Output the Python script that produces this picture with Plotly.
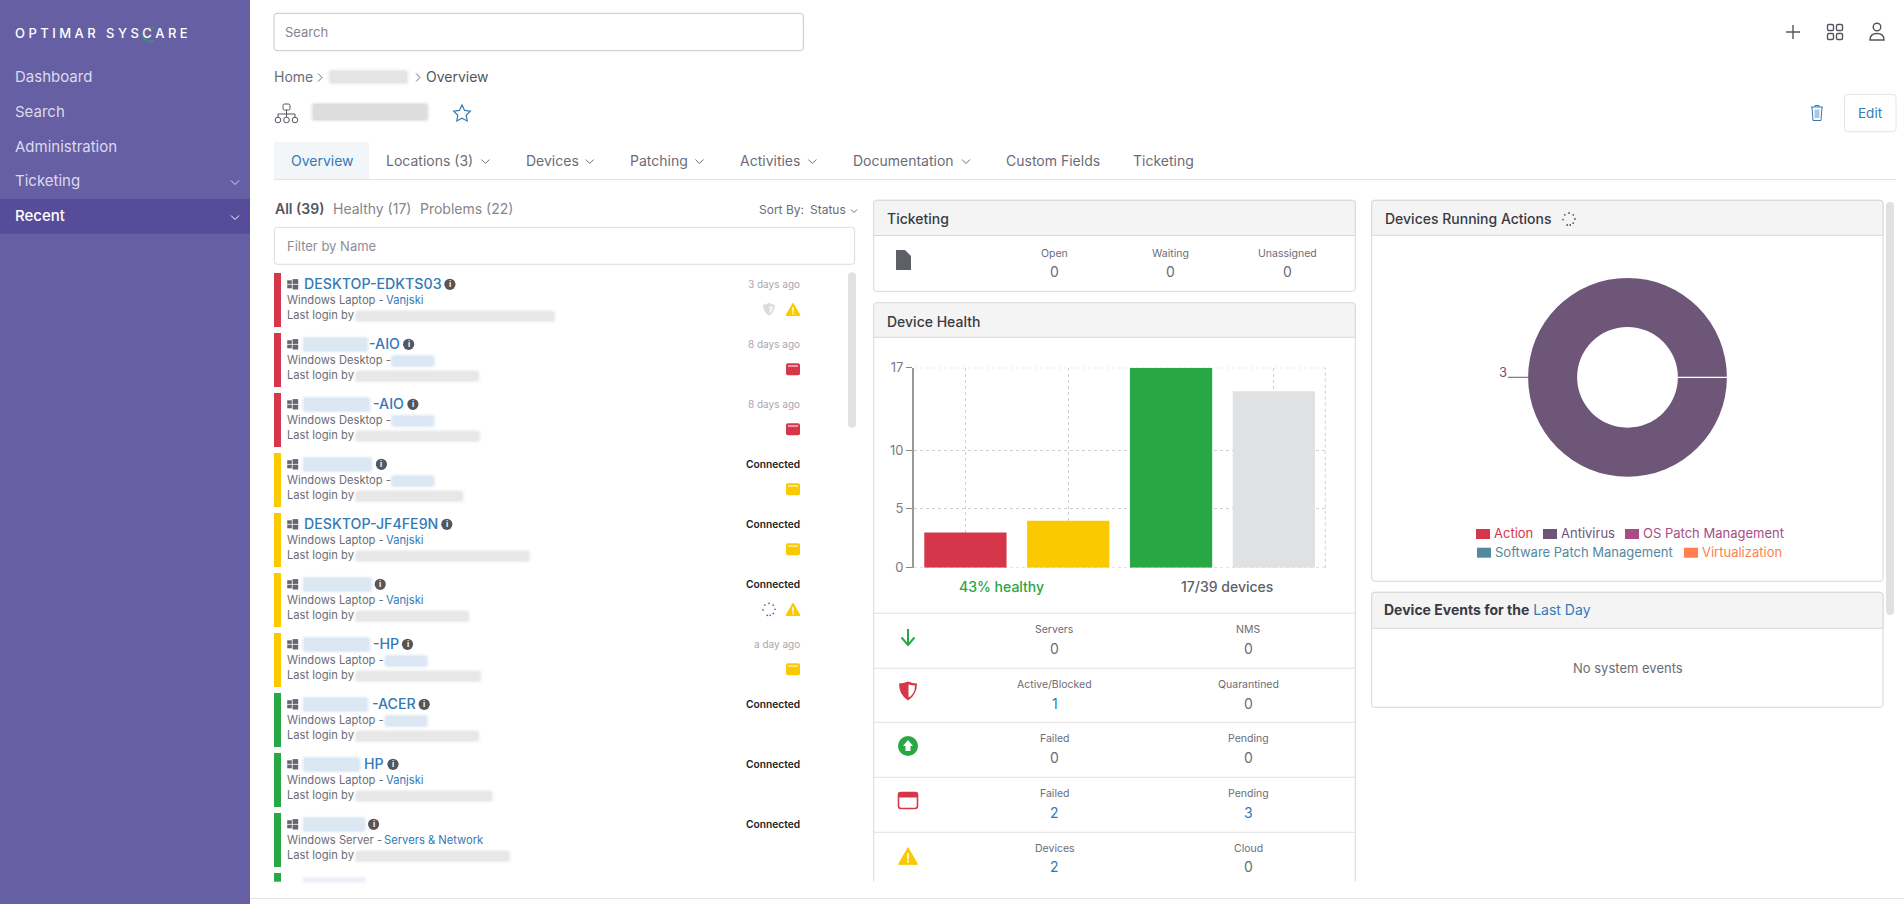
import plotly.graph_objects as go

# chart data
health_labels = ["Problems", "Warnings", "Healthy", "Offline"]
health_values = [3, 4, 17, 15]
health_ticks = [0, 5, 10, 17]

action_labels = ["Action", "Antivirus", "OS Patch Management", "Software Patch Management", "Virtualization"]
action_values = [0, 3, 0, 0, 0]
action_colors = ["#d63649", "#6e5678", "#a94c85", "#5488a0", "#ff7f50"]

# page text
menu_items = ["Dashboard", "Search", "Administration", "Ticketing", "Recent"]
tab_names = ["Locations (3)", "Devices", "Patching", "Activities", "Documentation", "Custom Fields", "Ticketing"]
tab_x = [386.6, 526.5, 630.5, 740.5, 853.5, 1006.5, 1133.5]
tab_chevrons = [485.4, 589.7, 699.4, 812.3, 966]

device_names = ["DESKTOP-EDKTS03", "-AIO", "-AIO", "", "DESKTOP-JF4FE9N", "", "-HP", "-ACER", "HP", ""]
device_types = ["Windows Laptop", "Windows Desktop", "Windows Desktop", "Windows Desktop", "Windows Laptop",
                "Windows Laptop", "Windows Laptop", "Windows Laptop", "Windows Laptop", "Windows Server"]
device_sites = ["Vanjski", "", "", "", "Vanjski", "Vanjski", "", "", "Vanjski", "Servers & Network"]
device_seen = ["3 days ago", "8 days ago", "8 days ago", "Connected", "Connected", "Connected",
               "a day ago", "Connected", "Connected", "Connected"]
device_state = ["red", "red", "red", "yellow", "yellow", "yellow", "yellow", "green", "green", "green"]
device_icons = [["shield", "warn"], ["win_red"], ["win_red"], ["win_yellow"], ["win_yellow"],
                ["spin", "warn"], ["win_yellow"], [], [], []]

# where the blurred bits of each row sit
name_text_x = [304.2, 369, 373, 0, 304.2, 0, 373, 372, 364.3, 0]
name_blur_end = [0, 367, 369, 370.9, 0, 370.9, 369, 367, 359.2, 364.3]
info_x = [449.9, 408.6, 412.9, 381.4, 446.8, 380.2, 407.5, 424.2, 393, 373.6]
login_blur_end = [553.8, 477.9, 479, 462.3, 528.5, 468, 479.8, 477.9, 491.5, 509]
site_x = {"Windows Laptop": 385.7, "Windows Desktop": 392.3, "Windows Server": 383.7}
site_blur = [None, (392.3, 433.2), (392.3, 433.2), (392.3, 433.2), None, None,
             (385.7, 426.5), (385.7, 426.5), None, None]

ticket_labels = ["Open", "Waiting", "Unassigned"]
ticket_values = [0, 0, 0]
row_labels = [["Servers", "NMS"], ["Active/Blocked", "Quarantined"], ["Failed", "Pending"],
              ["Failed", "Pending"], ["Devices", "Cloud"]]
row_values = [[0, 0], [1, 0], [0, 0], [2, 3], [2, 0]]

W, H = 1904, 904
FONT = "Inter"
RED, YELLOW, GREEN = "#d63649", "#fac900", "#28a745"
state_colors = {"red": RED, "yellow": YELLOW, "green": GREEN}
BLUE = "#337ab7"
TEXT = "#6c6c76"
DARK = "#3a3a42"
BORDER = "#dcdcdc"
SCROLL = "#e0e1e3"
GRID = "#cfcfcf"

shapes = []
notes = []


def text(x, y, s, size=13, color=TEXT, anchor="left", weight=400):
    # annotations sit a little inside their anchor
    if anchor == "left":
        x -= 1.2
    elif anchor == "right":
        x += 1
    notes.append(dict(x=x, y=y - 0.7, xref="x2", yref="y2", text=s, showarrow=False, xanchor=anchor,
                      yanchor="middle", font=dict(family=FONT, size=size, color=color, weight=weight), borderpad=0))


def rect(x0, y0, x1, y1, fill=None, line=None, lw=1):
    shapes.append(dict(type="rect", xref="x2", yref="y2", x0=x0, y0=y0, x1=x1, y1=y1, fillcolor=fill,
                       line=dict(color=line, width=lw if line else 0)))


def line(x0, y0, x1, y1, color=BORDER, lw=1):
    shapes.append(dict(type="line", xref="x2", yref="y2", x0=x0, y0=y0, x1=x1, y1=y1,
                       line=dict(color=color, width=lw)))


def path(d, fill=None, line_color=None, lw=1):
    shapes.append(dict(type="path", xref="x2", yref="y2", path=d, fillcolor=fill,
                       line=dict(color=line_color, width=lw if line_color else 0)))


def circle(cx, cy, r, fill=None, line_color=None, lw=1):
    shapes.append(dict(type="circle", xref="x2", yref="y2", x0=cx - r, y0=cy - r, x1=cx + r, y1=cy + r,
                       fillcolor=fill, line=dict(color=line_color, width=lw if line_color else 0)))


def rrect(x0, y0, x1, y1, r=3, fill=None, line_color=None, lw=1):
    d = (f"M{x0 + r},{y0} L{x1 - r},{y0} Q{x1},{y0} {x1},{y0 + r} L{x1},{y1 - r} Q{x1},{y1} {x1 - r},{y1} "
         f"L{x0 + r},{y1} Q{x0},{y1} {x0},{y1 - r} L{x0},{y0 + r} Q{x0},{y0} {x0 + r},{y0} Z")
    path(d, fill, line_color, lw)


def blur(x0, y0, x1, y1, rgb="150,150,155", a=1.0):
    rrect(x0 - 3, y0 - 2.5, x1 + 3, y1 + 2.5, 5, f"rgba({rgb},{0.07 * a})")
    rrect(x0 - 1.5, y0 - 1, x1 + 1.5, y1 + 1, 4, f"rgba({rgb},{0.10 * a})")
    rrect(x0, y0, x1, y1, 3, f"rgba({rgb},{0.13 * a})")


def chevron(x, y, color=TEXT, s=4):
    path(f"M{x - s},{y - s / 2} L{x},{y + s / 2} L{x + s},{y - s / 2}", None, color, 1)


def crumb(x, y, color=TEXT):
    path(f"M{x - 2},{y - 4} L{x + 2},{y} L{x - 2},{y + 4}", None, color, 1)


def windows(x, y):
    c = "#666670"
    rect(x, y - 4, x + 4.6, y - 0.4, c)
    rect(x, y + 0.4, x + 4.6, y + 4, c)
    rect(x + 5.4, y - 5.2, x + 11, y - 0.4, c)
    rect(x + 5.4, y + 0.4, x + 11, y + 5.2, c)


def info(x, y):
    circle(x, y, 5.6, "#55555c")
    text(x, y + 0.7, "i", 8, "#ffffff", "center", 700)


def warn(cx, cy, w=14):
    h = w * 0.87
    path(f"M{cx},{cy - h / 2} L{cx + w / 2},{cy + h / 2} L{cx - w / 2},{cy + h / 2} Z", YELLOW, YELLOW, 1)
    rect(cx - 0.8, cy - h * 0.16, cx + 0.8, cy + h * 0.2, "#ffffff")
    rect(cx - 0.8, cy + h * 0.26, cx + 0.8, cy + h * 0.4, "#ffffff")


def window_icon(cx, cy, color, w=14, h=12):
    rrect(cx - w / 2, cy - h / 2, cx + w / 2, cy + h / 2, 2, color)
    rect(cx - w / 2 + 2, cy - h / 2 + 2.2, cx + w / 2 - 2, cy - h / 2 + 3.2, "#ffffff")


def shield(cx, cy, w, h, fill, half=None):
    d = (f"M{cx},{cy - h / 2} Q{cx + w / 4},{cy - h / 2 + 2} {cx + w / 2},{cy - h / 2 + 2} "
         f"Q{cx + w / 2},{cy + h / 5} {cx},{cy + h / 2} Q{cx - w / 2},{cy + h / 5} {cx - w / 2},{cy - h / 2 + 2} "
         f"Q{cx - w / 4},{cy - h / 2 + 2} {cx},{cy - h / 2} Z")
    path(d, fill)
    if half:
        d = (f"M{cx + 0.5},{cy - h / 2 + 3} Q{cx + w / 4},{cy - h / 2 + 4} {cx + w / 2 - 2},{cy - h / 2 + 4} "
             f"Q{cx + w / 2 - 2},{cy + h / 6} {cx + 0.5},{cy + h / 2 - 3} Z")
        path(d, half)


def spinner(cx, cy, r, color):
    for dx, dy in [(0, -1), (0.7, -0.7), (1, 0), (0.7, 0.7), (0.2, 1), (-0.3, 1), (-1, 0.1), (-0.7, -0.7)]:
        circle(cx + dx * r, cy + dy * r, 0.9, color)


def panel(x0, y0, x1, y1, head_bottom, title, open_bottom=False):
    if open_bottom:
        line(x0, y0 + 3, x0, y1, "#d8d8d8", 1)
        line(x1, y0 + 3, x1, y1, "#d8d8d8", 1)
    else:
        rrect(x0, y0, x1, y1, 3, None, "#d8d8d8", 1)
    d = (f"M{x0},{head_bottom} L{x0},{y0 + 3} Q{x0},{y0} {x0 + 3},{y0} L{x1 - 3},{y0} Q{x1},{y0} {x1},{y0 + 3} "
         f"L{x1},{head_bottom} Z")
    path(d, "#f4f4f4", "#d8d8d8", 1)
    if title:
        text(x0 + 13, (y0 + head_bottom) / 2 + 1.7, title, 14, DARK, weight=500)


# sidebar
rect(0, 0, 250, H, "#665fa4")
rect(0, 199, 250, 233.7, "#574c9a")
text(15, 34, "O P T I M A R   S Y S C A R E", 13, "#ffffff", weight=500)
path("M154,28.5 Q150,26.5 146.5,28.5 Q143,31 143,34.5 Q143,38 146.5,40.5 Q150,42.5 154,40.5", None, "#28a745", 1.4)
for m, y in zip(menu_items, [76.7, 111.7, 146.7, 180.7, 215.7]):
    text(15.5, y, m, 15, "#ffffff" if m == "Recent" else "#dcdaec", weight=500 if m == "Recent" else 400)
chevron(235, 182.5, "#dcdaec")
chevron(235, 217.5, "#ffffff")

# top bar
rrect(274, 13.3, 803.4, 50.7, 3, "#ffffff", "#c8c8c8")
text(285.3, 32.3, "Search", 13, "#85858d")
path("M1793,25 L1793,39 M1786,32 L1800,32", None, "#55555f", 1.4)
for gx, gy in [(1827.5, 24.5), (1836.5, 24.5), (1827.5, 33.5), (1836.5, 33.5)]:
    rrect(gx, gy, gx + 6, gy + 6, 1.3, None, "#55555f", 1.4)
circle(1877, 27, 3.8, None, "#55555f", 1.4)
path("M1870,40 Q1870,33.5 1877,33.5 Q1884,33.5 1884,40 Z", None, "#55555f", 1.4)

# breadcrumb and title row
text(274.3, 77, "Home", 14, TEXT)
crumb(320, 77.5)
blur(330, 71, 407, 83, a=0.9)
crumb(418, 77.5)
text(426, 77, "Overview", 14, "#55555f")
rrect(283, 104, 290, 110, 1.5, None, "#55555f")
path("M286.5,110 L286.5,117 M278,117 L278,114 L295,114 L295,117", None, "#55555f")
for ox in [278, 286.5, 295]:
    circle(ox, 120, 2.8, None, "#55555f")
blur(313, 104, 427, 120, a=1.2)
path("M462,105 L464.6,110.4 L470.3,111.2 L466.2,115.2 L467.2,121 L462,118.3 L456.8,121 L457.8,115.2 L453.7,111.2 "
     "L459.4,110.4 Z", None, BLUE, 1.2)
path("M1811,107 L1823,107 M1815,107 L1815,105.5 L1819,105.5 L1819,107 M1812,107 L1813,120.5 L1821,120.5 L1822,107",
     None, BLUE, 1)
rect(1814.5, 109.5, 1819.5, 118, "#a9c8e2")
rrect(1844.5, 94.3, 1896, 131.7, 3, "#ffffff", "#e4e4e4")
text(1870, 114, "Edit", 13.5, BLUE, "center")

# tabs
rect(274, 142, 369, 179, "#f2f6f9")
line(274, 179.5, 1896, 179.5, "#e4e4e4")
text(322, 161, "Overview", 14, BLUE, "center")
for t, x in zip(tab_names, tab_x):
    text(x, 161, t, 14, TEXT)
for x in tab_chevrons:
    chevron(x, 161.5)

# device list
text(274.8, 209, "All (39)", 14, "#55555f", weight=600)
text(333.5, 209, "Healthy (17)", 14, "#85858d")
text(420.3, 209, "Problems (22)", 14, "#85858d")
text(758.8, 210, "Sort By:", 12, TEXT)
text(810.6, 210, "Status", 12, TEXT)
chevron(854, 211, TEXT, 3)
rrect(274.4, 227.3, 854.6, 264.3, 3, "#ffffff", "#dcdcdc")
text(287.2, 246.5, "Filter by Name", 13, "#8d8d95")
rrect(848, 272.3, 856, 427.7, 4, SCROLL)

for i, dev in enumerate(device_names):
    top = 273 + 60 * i
    rect(274, top, 281, top + 54, state_colors[device_state[i]])
    windows(287.2, top + 11.3)
    if name_blur_end[i]:
        blur(304, top + 5, name_blur_end[i], top + 18, "130,170,215")
    if dev:
        text(name_text_x[i], top + 11.3, dev, 14.2, BLUE, weight=500)
    info(info_x[i], top + 11.3)
    text(287.2, top + 28, device_types[i] + " -", 11.2, TEXT)
    if device_sites[i]:
        text(site_x[device_types[i]], top + 28, device_sites[i], 11.2, BLUE)
    if site_blur[i]:
        blur(site_blur[i][0], top + 23, site_blur[i][1], top + 33, "130,170,215")
    text(287.2, top + 43, "Last login by", 11.2, TEXT)
    blur(356.5, top + 38.5, login_blur_end[i], top + 48, a=0.8)
    seen = device_seen[i]
    if seen == "Connected":
        text(800, top + 11.3, seen, 10.2, "#222226", "right", 600)
    else:
        text(800, top + 11.3, seen, 10, "#a8a8ae", "right")
    icons = device_icons[i]
    for k, ic in enumerate(reversed(icons)):
        cx = 793 - 24 * k
        cy = top + 36.3
        if ic == "warn":
            warn(cx, cy)
        elif ic == "win_red":
            window_icon(cx, cy, RED)
        elif ic == "win_yellow":
            window_icon(cx, cy, YELLOW)
        elif ic == "shield":
            shield(cx, cy, 12, 13, "#dcdcde", "#f4f4f5")
        elif ic == "spin":
            spinner(cx, cy, 6, BLUE)

# last row is cut off by the bottom of the scroll area
rect(274, 873, 281, 881.7, GREEN)
blur(304, 878, 365, 881.5, "130,170,215", 0.6)
line(250, 898.5, W, 898.5, "#e4e4e4")

# ticketing panel
panel(873.7, 200.3, 1355.3, 291.4, 235.5, "Ticketing")
path("M896,250 L905,250 L911,256 L911,270 L896,270 Z", "#5f5f68")
for lab, val, x in zip(ticket_labels, ticket_values, [1054, 1170.5, 1287]):
    text(x, 253.8, lab, 10.5, TEXT, "center")
    text(x, 272, str(val), 14, TEXT, "center")

# device health panel, the bars themselves are the trace below
panel(873.7, 302.7, 1355.3, 881.7, 337.3, "Device Health", open_bottom=True)
text(1001.7, 587.5, "43% healthy", 14, GREEN, "center", 500)
text(1227, 587.5, "17/39 devices", 14, "#5f5f6b", "center", 500)

rows_y = [613.3, 668.3, 722.3, 777.3, 832.3]
label_y = [630.3, 685.3, 739.3, 794.3, 849.3]
value_y = [649, 704, 758, 813, 866.7]
for y in rows_y:
    line(873.7, y, 1355.3, y, "#e2e2e2")
for labs, vals, ly, vy in zip(row_labels, row_values, label_y, value_y):
    for lab, val, x in zip(labs, vals, [1054.7, 1248]):
        text(x, ly, lab, 10.5, TEXT, "center")
        text(x, vy, str(val), 14, BLUE if val else TEXT, "center")

# icons at the left of the rows
path("M908,629 L908,645 M901.5,637.5 L908,645 L914.5,637.5", None, GREEN, 2)
shield(908, 691, 18, 19, RED, "#ffffff")
circle(908, 746, 10, GREEN)
path("M908,740 L913,746 L910.5,746 L910.5,751 L905.5,751 L905.5,746 L903,746 Z", "#ffffff")
rrect(898.5, 792.5, 917.5, 808.5, 2.5, "#ffffff", RED, 1.6)
rect(898.5, 792.5, 917.5, 797.5, RED)
warn(908, 856, 19)

# devices running actions panel
panel(1371.7, 200.3, 1883, 581.3, 235.3, "Devices Running Actions")
spinner(1569, 219, 6, "#55555f")
rrect(1886, 202, 1894, 615, 4, SCROLL)

pie_cx, pie_cy, pie_r = 1627.5, 377.3, 99.4
line(pie_cx + 50, pie_cy, pie_cx + pie_r + 1, pie_cy, "#ffffff", 1.3)
line(1508, pie_cy, pie_cx - pie_r, pie_cy, action_colors[1], 1)
text(1503, 372.3, str(max(action_values)), 13, action_colors[1], "center")

legend_swatch = [(1476, 534), (1543, 534), (1625, 534), (1477, 552.7), (1684, 552.7)]
legend_text_x = [1494.3, 1561.4, 1643, 1494.7, 1702]
for lab, col, (sx, sy), tx in zip(action_labels, action_colors, legend_swatch, legend_text_x):
    rect(sx, sy - 5, sx + 14, sy + 5, col)
    text(tx, sy - 0.5, lab, 13, col)

# device events panel
panel(1371.7, 592.3, 1883, 707.3, 628.3, None)
text(1384.3, 610, f'<b>Device Events for the</b> <span style="color:{BLUE}">Last Day</span>', 14, DARK)
text(1627.5, 668.3, "No system events", 13, TEXT, "center")

# chart frame, plotly leaves out the grid lines at the ends of the axis range
for yv in [min(health_ticks), max(health_ticks)]:
    shapes.append(dict(type="line", xref="x domain", yref="y", x0=0, x1=1, y0=yv, y1=yv, layer="below",
                       line=dict(color=GRID, width=1, dash="3px,3px")))
shapes.append(dict(type="line", xref="x domain", yref="y domain", x0=1, x1=1, y0=0, y1=1, layer="below",
                   line=dict(color=GRID, width=1, dash="3px,3px")))

fig = go.Figure()
fig.add_trace(go.Bar(x=health_labels, y=health_values, marker=dict(color=[RED, YELLOW, GREEN, SCROLL], line_width=0),
                     showlegend=False, hoverinfo="y"))
fig.add_trace(go.Pie(labels=action_labels, values=action_values, marker=dict(colors=action_colors, line_width=0),
                     hole=0.507, rotation=90, sort=False, direction="clockwise", textinfo="none", showlegend=False,
                     domain=dict(x=[(pie_cx - pie_r) / W, (pie_cx + pie_r) / W],
                                 y=[1 - (pie_cy + pie_r) / H, 1 - (pie_cy - pie_r) / H])))

# overlay axes run in page pixels so the surrounding panels can be laid out
fig.add_trace(go.Scatter(x=[], y=[], xaxis="x2", yaxis="y2", showlegend=False))

fig.update_layout(
    width=W, height=H, margin=dict(l=0, r=0, t=0, b=0), autosize=False,
    paper_bgcolor="#ffffff", plot_bgcolor="rgba(0,0,0,0)", bargap=0.2,
    font=dict(family=FONT, size=12, color=TEXT),
    xaxis=dict(domain=[914 / W, 1325.3 / W], type="category", categoryorder="array", categoryarray=health_labels,
               showticklabels=False, ticks="", showgrid=True, gridcolor=GRID, griddash="3px,3px", gridwidth=1,
               zeroline=False, showline=False, anchor="y", automargin=False),
    yaxis=dict(domain=[1 - 567.7 / H, 1 - 367.7 / H], range=[0, 17], tickmode="array", tickvals=health_ticks,
               showgrid=True, gridcolor=GRID, griddash="3px,3px", gridwidth=1, zeroline=False, showline=True,
               linecolor="#999999", linewidth=2, ticks="outside", ticklen=6, tickcolor="#888888", tickwidth=1,
               tickfont=dict(family=FONT, size=13, color="#7a7a82"), anchor="x", automargin=False),
    xaxis2=dict(domain=[0, 1], range=[0, W], visible=False, anchor="y2", fixedrange=True, automargin=False),
    yaxis2=dict(domain=[0, 1], range=[H, 0], visible=False, anchor="x2", fixedrange=True, automargin=False),
    shapes=shapes, annotations=notes,
)

fig.write_html("out.html", config={"displayModeBar": False},
               post_script="document.body.style.margin='0';document.body.style.overflow='hidden';")
